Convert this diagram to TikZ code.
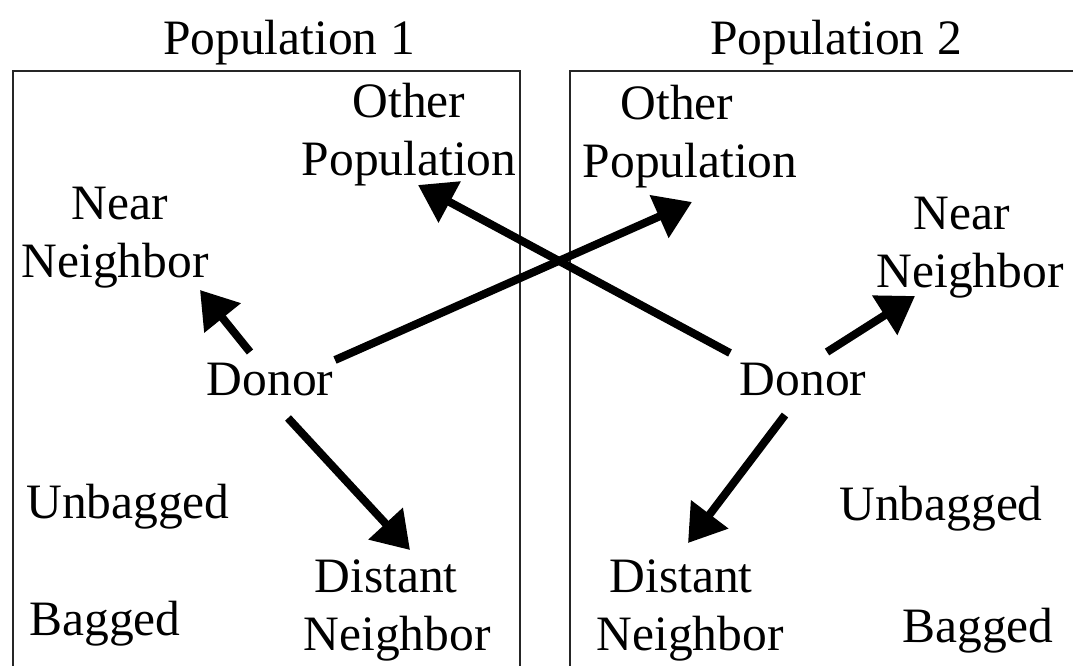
\documentclass[tikz,border=0pt]{standalone}
\usepackage{fontspec}
\setmainfont{Liberation Serif}
\usetikzlibrary{arrows.meta}
\tikzset{
  lbl/.style={anchor=base, inner sep=0pt, outer sep=0pt, font=\fontsize{49.5}{58}\selectfont},
  arr/.style={line width=8pt, -{Triangle[length=36pt,width=45pt]}},
  frame/.style={line width=2pt, draw=black!85}
}
\newcommand{\twoline}[2]{\begin{tabular}[b]{@{}c@{}}#1\\#2\end{tabular}}
\begin{document}
\begin{tikzpicture}[x=1pt,y=-1pt]
\useasboundingbox (0,0) rectangle (1073,666);
\fill[white] (0,0) rectangle (1073,666);
\clip (0,0) rectangle (1073,666);
% frames
\draw[frame] (13,71) rectangle (520,680);
\draw[frame] (570,71) rectangle (1090,680);
% titles
\node[lbl] (pop1) at (289,55) {Population 1};
\node[lbl] (pop2) at (836,55) {Population 2};
% population 1
\node[lbl] (otherL) at (409,175) {\twoline{Other}{Population}};
\node[lbl] (nearL) at (115,277) {\twoline{\hspace*{10pt}Near}{Neighbor}};
\node[lbl] (donorL) at (270,395) {Donor};
\node[lbl] (unbagL) at (128,518) {Unbagged};
\node[lbl] (bagL) at (105,635) {Bagged};
\node[lbl] (distL) at (397,650) {\twoline{Distant\hspace*{22pt}}{Neighbor}};
% population 2
\node[lbl] (otherR) at (690,177) {\twoline{Other\hspace*{26pt}}{Population}};
\node[lbl] (nearR) at (970,287) {\twoline{Near\hspace*{16pt}}{Neighbor}};
\node[lbl] (donorR) at (803,395) {Donor};
\node[lbl] (unbagR) at (941,520) {Unbagged};
\node[lbl] (bagR) at (978,642) {Bagged};
\node[lbl] (distR) at (690,650) {\twoline{Distant\hspace*{18pt}}{Neighbor}};
% connectors
\draw[arr] ([shift={(-20,-43)}]donorL.base) -- ([shift={(85,13)}]nearL.base);
\draw[arr] ([shift={(65,-35)}]donorL.base) -- ([shift={(2,25)}]otherR.base);
\draw[arr] ([shift={(18,23)}]donorL.base) -- ([shift={(13,-100)}]distL.base);
\draw[arr] ([shift={(-73,-42)}]donorR.base) -- ([shift={(9,10)}]otherL.base);
\draw[arr] ([shift={(24,-43)}]donorR.base) -- ([shift={(-55,9)}]nearR.base);
\draw[arr] ([shift={(-18,20)}]donorR.base) -- ([shift={(-2,-107)}]distR.base);
\end{tikzpicture}
\end{document}
